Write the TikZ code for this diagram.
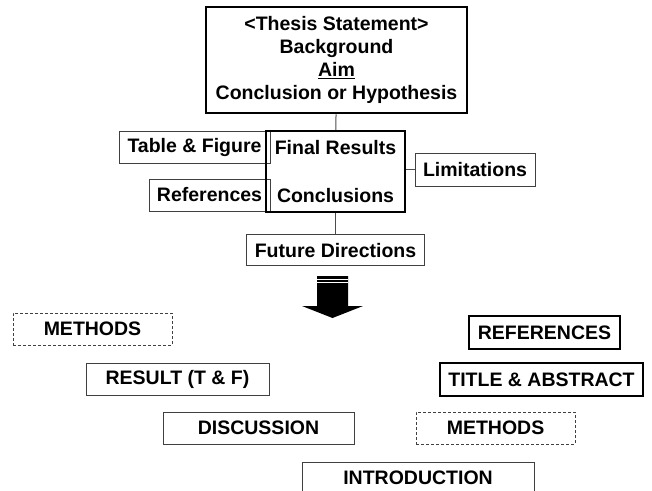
\documentclass[tikz,border=0pt]{standalone}
\usepackage{fontspec}
\setmainfont{Liberation Sans}
\usetikzlibrary{positioning}
\tikzstyle{mainbox} = [rectangle, draw=black, line width=2.5pt, inner sep=0pt, align=center, text centered]
\tikzstyle{sidebox} = [rectangle, draw=black!75, line width=1pt, inner sep=0pt, minimum height=32pt, text centered]
\tikzstyle{boldbox} = [sidebox, draw=black, line width=1.6pt, minimum height=33pt]
\tikzstyle{dashbox} = [sidebox, dash pattern=on 3pt off 2pt]
\tikzstyle{line} = [draw=black!70, line width=1pt]

\begin{document}
\begin{tikzpicture}[x=1pt, y=-1pt, every node/.style={font=\fontsize{19.5}{23}\selectfont\bfseries}]
\useasboundingbox (0,0) rectangle (652,490);

% thesis outline
\node (thesis) [mainbox, minimum width=261pt, minimum height=106pt] at (336.5,60)
  {<Thesis Statement>\\Background\\\underline{Aim}\\Conclusion or Hypothesis};

\node (tabfig) [sidebox, minimum width=151pt] at (194.5,147) {Table \& Figure};
\node (refs) [sidebox, minimum width=121pt] at (209.5,195) {References};
\node (limits) [sidebox, minimum width=120pt, minimum height=33pt] at (475,169.5) {Limitations};

\node (final) [mainbox, minimum width=139pt, minimum height=81pt] at (335.5,171.5)
  {Final Results\\[25pt]Conclusions};

\node (future) [sidebox, minimum width=178pt, minimum height=31pt, below=21pt of final] {Future Directions};

\draw [line] (thesis) -- (final);
\draw [line] (final) -- (future);
\draw [line] (limits.west) -- (limits.west -| final.east);

% big arrow
\fill (317,276) -- (348,276) -- (348,306) -- (363,306) -- (332.5,318) -- (302,306) -- (317,306) -- cycle;
\draw [white, line width=0.8pt] (317,279) -- (348,279);
\draw [white, line width=0.8pt] (317,282) -- (348,282);

% writing order
\node (meth1) [dashbox, minimum width=159pt] at (92.5,329) {METHODS};
\node (result) [sidebox, minimum width=183pt] at (177.5,379) {RESULT (T \& F)};
\node (discuss) [sidebox, minimum width=191pt] at (258.5,428) {DISCUSSION};
\node (intro) [sidebox, minimum width=232pt] at (418,478) {INTRODUCTION};

\node (refs2) [boldbox, minimum width=151pt] at (544.5,332.5) {REFERENCES};
\node (title) [boldbox, minimum width=203pt] at (541.5,379.5) {TITLE \& ABSTRACT};
\node (meth2) [dashbox, minimum width=159pt] at (495.5,428) {METHODS};

\end{tikzpicture}
\end{document}
